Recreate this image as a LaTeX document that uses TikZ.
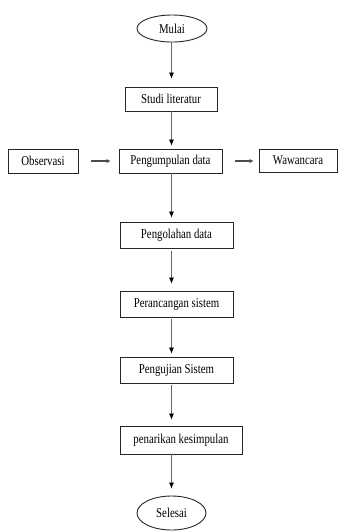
\documentclass[tikz,border=0pt]{standalone}
\usepackage{fontspec}
\setmainfont{Liberation Serif}[FakeStretch=0.8]
\usetikzlibrary{arrows.meta,shapes.geometric}
\begin{document}
\begin{tikzpicture}[x=1pt,y=-1pt,
  box/.style={draw=black!85,line width=0.9pt,inner sep=0pt,minimum height=24pt,font=\fontsize{13.5}{15}\selectfont},
  oval/.style={ellipse,draw=black!85,line width=0.9pt,inner sep=0pt,font=\fontsize{13.5}{15}\selectfont},
  arr/.style={draw=black!60,line width=0.6pt,-{Latex[length=6pt,width=5pt,color=black]}},
  harr/.style={draw=black!70,line width=2pt,-{Latex[length=4pt,width=4.5pt]}}]
\useasboundingbox (0,0) rectangle (339,531);
\node[oval,minimum width=70pt,minimum height=27pt] (mulai) at (172,28.5) {Mulai};
\node[box,minimum width=92pt] (studi) at (171,99) {Studi literatur};
\node[box,minimum width=103pt] (kumpul) at (170.5,161) {Pengumpulan data};
\node[box,minimum width=70pt] (obs) at (43,161) {Observasi};
\node[box,minimum width=78pt,minimum height=23pt] (waw) at (298,160.5) {Wawancara};
\node[box,minimum width=113pt,minimum height=26pt] (olah) at (176.5,235) {Pengolahan data};
\node[box,minimum width=113pt,minimum height=26pt] (ranc) at (176.5,304) {Perancangan sistem};
\node[box,minimum width=113pt,minimum height=26pt] (uji) at (176.5,370) {Pengujian Sistem};
\node[box,minimum width=122pt,minimum height=28pt] (tarik) at (181,440) {penarikan kesimpulan};
\node[oval,minimum width=69pt,minimum height=34pt] (selesai) at (171.5,513) {Selesai};
\coordinate (c1) at (171.5,0);
\draw[arr,shorten >=8pt] (mulai.south -| c1) -- (studi.north -| c1);
\draw[arr,shorten >=3pt] (studi.south -| c1) -- (kumpul.north -| c1);
\draw[arr,shorten >=4pt] (kumpul.south -| c1) -- (olah.north -| c1);
\draw[arr,shorten <=3pt,shorten >=7pt] (olah.south -| c1) -- (ranc.north -| c1);
\draw[arr,shorten <=2pt,shorten >=3pt] (ranc.south -| c1) -- (uji.north -| c1);
\draw[arr,shorten <=2pt,shorten >=6pt] (uji.south -| c1) -- (tarik.north -| c1);
\draw[arr,shorten >=7pt] (tarik.south -| c1) -- (selesai.north -| c1);
\draw[harr,shorten <=13pt,shorten >=8pt] (obs.east) -- (kumpul.west);
\draw[harr,shorten <=13pt,shorten >=5pt] (kumpul.east) -- (waw.west |- kumpul.east);
\end{tikzpicture}
\end{document}
